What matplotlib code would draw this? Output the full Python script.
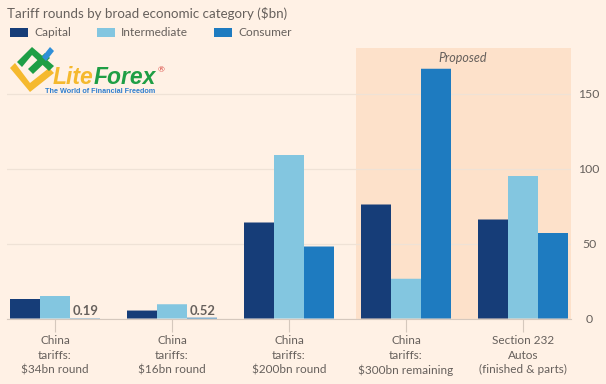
from matplotlib import pyplot as plt
from matplotlib.patches import Polygon
import numpy as np

plt.rcParams['font.family'] = ['Lato', 'DejaVu Sans']

# values in $bn
categories = ['China\ntariffs:\n$34bn round', 'China\ntariffs:\n$16bn round', 'China\ntariffs:\n$200bn round',
              'China\ntariffs:\n$300bn remaining', 'Section 232\nAutos\n(finished & parts)']
capital = [13, 5.3, 64, 76, 66]
intermediate = [15, 9.5, 109, 26.5, 95]
consumer = [0.19, 0.52, 48, 166.5, 57]
series_names = ['Capital', 'Intermediate', 'Consumer']
y_ticks = [0, 50, 100, 150]
small_labels = ['0.19', '0.52']

BG = '#fff1e5'
BAND = '#fde1ca'
GREY = '#66605c'
COLORS = ['#163d78', '#83c6e0', '#1e7bc0']

W, H = 606, 384
fig = plt.figure(figsize=(W / 100, H / 100), dpi=100, facecolor=BG)

# axes placed in pixels: baseline at y=318.5, plot area 7..571
left, right, bottom, top = 7, 571, 318.5, 48
ax = fig.add_axes([left / W, 1 - bottom / H, (right - left) / W, (bottom - top) / H], facecolor=BG)

step = 117
bar_w = 30 / step
x = np.arange(len(categories))
ax.set_xlim((left - 55) / step, (right - 55) / step)
ax.set_ylim(0, (bottom - top) / 1.5)

# proposed band covers the last two groups
ax.axvspan((356 - 55) / step, (right - 55) / step, color=BAND, lw=0, zorder=0)
ax.text((463 - 55) / step, 174, 'Proposed', style='italic', color=GREY, fontsize=9, ha='center', va='center')

for i, (vals, name) in enumerate(zip([capital, intermediate, consumer], series_names)):
    ax.bar(x + (i - 1) * bar_w, vals, bar_w, color=COLORS[i], label=name, zorder=3, snap=False)

# the two tiny consumer values are labelled directly
for i, label in enumerate(small_labels):
    ax.text(x[i] + 18 / step, 5.2, label, color=GREY, fontsize=9.4, fontweight='bold', va='center')

ax.set_yticks(y_ticks)
ax.yaxis.tick_right()
ax.tick_params(axis='y', length=0, pad=13, labelcolor=GREY, labelsize=8.8)
for lab in ax.get_yticklabels():
    lab.set_ha('center')
ax.grid(axis='y', color='#efe2d6', lw=0.9, zorder=1)
ax.set_xticks(x)
ax.set_xticklabels(categories, linespacing=1.38)
ax.tick_params(axis='x', length=9, width=0.8, color='#d5c8bd', labelcolor=GREY, labelsize=8.5, pad=3)
ax.spines[['top', 'right', 'left']].set_visible(False)
ax.spines['bottom'].set_color('#d5c8bd')

fig.text(7 / W, 1 - 13 / H, 'Tariff rounds by broad economic category ($bn)', color=GREY, fontsize=9.6, va='center')

# legend drawn by hand to hit the spacing of the original
for i, (name, sx, tx) in enumerate(zip(series_names, [10, 97, 214], [34, 121, 238])):
    fig.patches.append(plt.Rectangle((sx / W, 1 - 36.5 / H), 18 / W, 8 / H, transform=fig.transFigure,
                                     facecolor=COLORS[i], edgecolor='none'))
    fig.text(tx / W, 1 - 32.5 / H, name, color=GREY, fontsize=8.6, va='center')

# LiteForex watermark
def shape(pts, color):
    fig.patches.append(Polygon([(px / W, 1 - py / H) for px, py in pts], closed=True, transform=fig.transFigure,
                               facecolor=color, edgecolor='none', zorder=6))

shape([(10, 68), (15, 63), (30, 83), (49, 68), (54, 73), (30, 92)], '#f5b92e')
shape([(17, 62), (32, 47), (54, 66), (49, 71), (32, 55), (22, 67)], '#1f9e45')
shape([(28, 69), (45, 53), (50, 58), (33, 74)], '#1f9e45')
shape([(42, 57), (50, 47), (54, 51), (46, 61)], '#2f8fd8')
fig.text(53 / W, 1 - 83.5 / H, 'Lite', color='#f5b92e', fontsize=16.5, fontweight='bold', style='italic',
         family=['Liberation Sans'], va='baseline', zorder=7)
fig.text(94 / W, 1 - 83.5 / H, 'Forex', color='#1f9e45', fontsize=16.5, fontweight='bold', style='italic',
         family=['Liberation Sans'], va='baseline', zorder=7)
fig.text(158 / W, 1 - 70 / H, '®', color='#d8433c', fontsize=6, va='center', zorder=7)
fig.text(45 / W, 1 - 91.5 / H, 'The World of Financial Freedom', color='#2f7fd0', fontsize=5.2, fontweight='bold',
         family=['Liberation Sans'], va='center', zorder=7)

fig.savefig('out.png', dpi=100, facecolor=BG)
